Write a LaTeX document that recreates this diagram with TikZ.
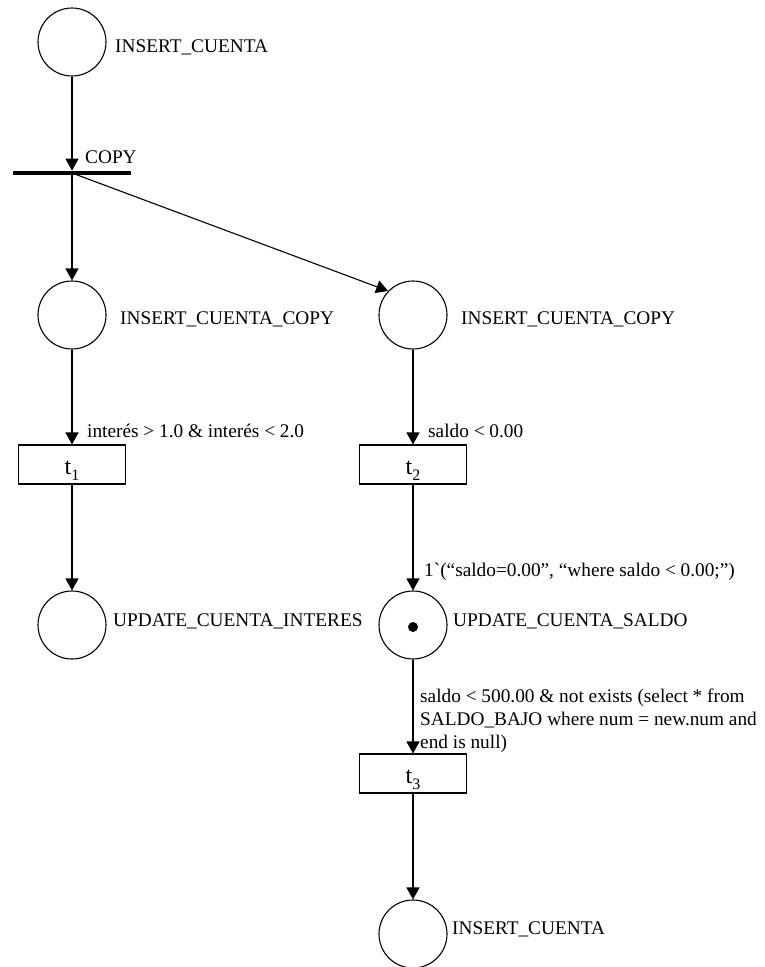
\documentclass[tikz,border=0pt]{standalone}
\usepackage{fontspec}
\setmainfont{Liberation Serif}
\usetikzlibrary{arrows.meta}
\newcommand{\tsub}[1]{t\raisebox{-6pt}{\fontsize{16}{16}\selectfont #1}}
\begin{document}
\begin{tikzpicture}[x=1pt,y=-1pt,
  place/.style={circle,draw,line width=1.1pt,minimum size=68pt,inner sep=0pt},
  trans/.style={rectangle,draw,line width=1.1pt,minimum width=107pt,minimum height=39pt,inner sep=0pt,text height=19pt,text depth=0pt,font=\fontsize{24}{28}\selectfont},
  barnode/.style={rectangle,fill=black,minimum width=118pt,minimum height=4.3pt,inner sep=0pt},
  lbl/.style={anchor=base west,inner sep=0pt,font=\fontsize{19.3}{23}\selectfont},
  arc/.style={line width=1.1pt,-{Triangle[length=12pt,width=13pt]}},
  tokendot/.style={circle,fill=black,minimum size=10pt,inner sep=0pt}]
\useasboundingbox (0,0) rectangle (765,967);
% places
\node[place] (p0) at (72,42) {};
\node[lbl] (l0) at (115,52) {INSERT\_CUENTA};
\node[barnode] (copy) at (72,173) {};
\node[lbl] (lcopy) at (85,163) {COPY};
\node[place] (p1) at (72,315) {};
\node[lbl] (l1) at (120,324) {INSERT\_CUENTA\_COPY};
\node[place] (p2) at (413,315) {};
\node[lbl] (l2) at (461,324) {INSERT\_CUENTA\_COPY};
\node[trans] (t1) at (72,464.5) {\tsub{1}};
\node[trans] (t2) at (413,464.5) {\tsub{2}};
\node[place] (p3) at (72,625) {};
\node[lbl] (l3) at (113,626) {UPDATE\_CUENTA\_INTERES};
\node[place] (p4) at (413,625) {};
\node[tokendot] (tok) at (413,627) {};
\node[lbl] (l4) at (453,626) {UPDATE\_CUENTA\_SALDO};
\node[trans] (t3) at (413,773.5) {\tsub{3}};
\node[place] (p5) at (413,934) {};
\node[lbl] (l5) at (452,934) {INSERT\_CUENTA};
% arc labels
\node[lbl] (g1) at (87,437) {interés > 1.0 \& interés < 2.0};
\node[lbl] (g2) at (428,437) {saldo < 0.00};
\node[lbl] (e1) at (424,576) {1\textasciigrave(“saldo=0.00”, “where saldo < 0.00;”)};
\node[lbl,anchor=north west,align=left] (g3) at (420,688.5) {saldo < 500.00 \& not exists (select * from\\SALDO\_BAJO where num = new.num and\\end is null)};
% arcs
\draw[arc] (p0) -- (copy);
\draw[arc] (copy) -- (p1);
\draw[arc] (copy.center) -- (p2.136);
\draw[arc] (p1) -- (t1);
\draw[arc] (p2) -- (t2);
\draw[arc] (t1) -- (p3);
\draw[arc] (t2) -- (p4);
\draw[arc] (p4) -- (t3);
\draw[arc] (t3) -- (p5);
\end{tikzpicture}
\end{document}
